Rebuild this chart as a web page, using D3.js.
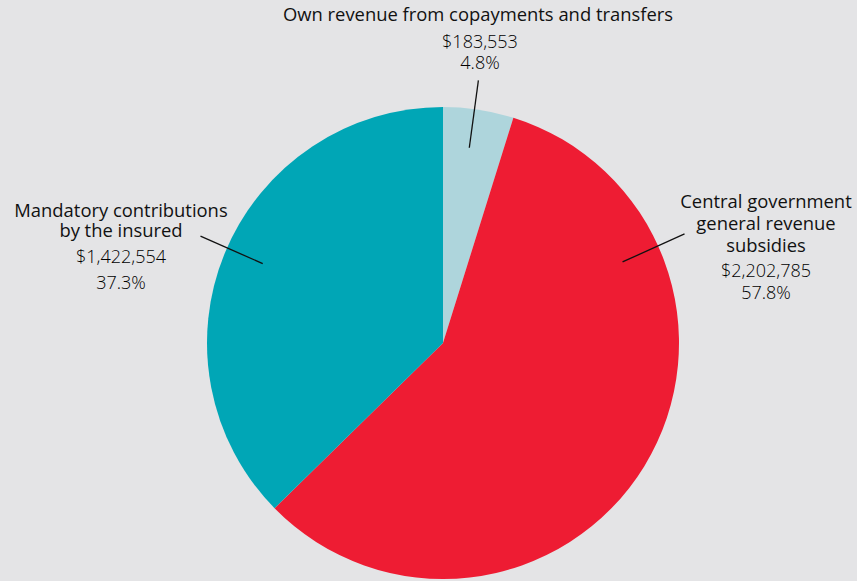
<!DOCTYPE html>
<html>
<head>
<meta charset="utf-8">
<script src="https://cdn.jsdelivr.net/npm/d3@7"></script>
<style>
  html, body { margin: 0; padding: 0; background: #e4e4e6; }
  svg { display: block; }
  text { font-family: "Open Sans", Lato, sans-serif; fill: #111; }
  .name { font-size: 18.4px; font-weight: 400; }
  .val { font-size: 18px; font-weight: 300; fill: #000; }
</style>
</head>
<body>
<svg id="chart" width="857" height="581"></svg>
<script>
// Funding sources, in drawing order (clockwise from 12 o'clock)
const categories = [
  "Own revenue from copayments and transfers",
  "Central government general revenue subsidies",
  "Mandatory contributions by the insured"
];
const amounts = [183553, 2202785, 1422554];
const percentLabels = ["4.8%", "57.8%", "37.3%"];
const amountLabels = ["$183,553", "$2,202,785", "$1,422,554"];
const colors = ["#aed5dc", "#ee1c33", "#00a6b6"];

const svg = d3.select("#chart");
const W = 857, H = 581;
const cx = 443, cy = 343, R = 236;

svg.append("rect").attr("width", W).attr("height", H).attr("fill", "#e4e4e6");

const pie = d3.pie().sort(null).value(d => d)(amounts);
const arc = d3.arc().innerRadius(0).outerRadius(R);

const g = svg.append("g").attr("transform", `translate(${cx},${cy})`);

g.selectAll("path.slice")
  .data(pie)
  .join("path")
  .attr("class", "slice")
  .attr("d", arc)
  .attr("fill", (d, i) => colors[i]);

// Leader lines: radial ticks from inside the slice to just beyond the rim
const deg = Math.PI / 180;
const leaderAngle = [
  p => (p.startAngle + p.endAngle) / 2 - 1 * deg,
  p => 65.7 * deg,
  p => (p.startAngle + p.endAngle) / 2 + 1 * deg
];
const leaderIn = 197, leaderOut = 265;
g.selectAll("line.leader")
  .data(pie)
  .join("line")
  .attr("class", "leader")
  .attr("x1", (d, i) => leaderIn * Math.sin(leaderAngle[i](d)))
  .attr("y1", (d, i) => -leaderIn * Math.cos(leaderAngle[i](d)))
  .attr("x2", (d, i) => leaderOut * Math.sin(leaderAngle[i](d)))
  .attr("y2", (d, i) => -leaderOut * Math.cos(leaderAngle[i](d)))
  .attr("stroke", "#111")
  .attr("stroke-width", 1.3);

// Label blocks: one text per block, name lines then amount and share
const labelLayout = [
  { x: 478, name: [["Own revenue from copayments and transfers", 21]], valX: 480, amtY: 48, pctY: 69 },
  { x: 766, name: [["Central government", 208], ["general revenue", 230], ["subsidies", 252]], valX: 766, amtY: 277, pctY: 299 },
  { x: 121, name: [["Mandatory contributions", 217], ["by the insured", 237]], valX: 121, amtY: 263, pctY: 289 }
];

labelLayout.forEach((L, i) => {
  const t = svg.append("text").attr("text-anchor", "middle");
  L.name.forEach(([s, y]) => {
    t.append("tspan").attr("class", "name").attr("x", L.x).attr("y", y).text(s);
  });
  t.append("tspan").attr("class", "val").attr("x", L.valX).attr("y", L.amtY).text(amountLabels[i]);
  t.append("tspan").attr("class", "val").attr("x", L.valX).attr("y", L.pctY).text(percentLabels[i]);
});
</script>
</body>
</html>
